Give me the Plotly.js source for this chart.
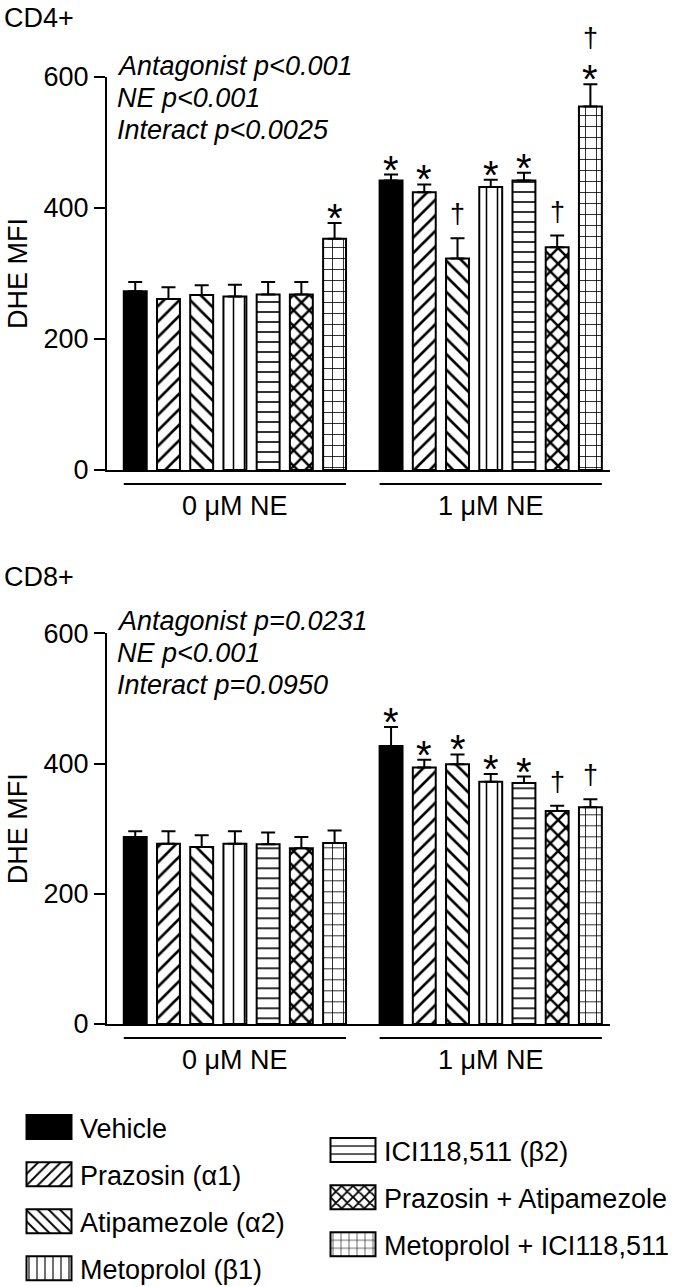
<!DOCTYPE html>
<html>
<head>
<meta charset="utf-8">
<script src="https://cdn.plot.ly/plotly-3.0.1.min.js"></script>
<style>html,body{margin:0;padding:0;background:#fff}</style>
</head>
<body>
<div id="chart" style="width:700px;height:1287px"></div>
<script>
// ---------- data ----------
const seriesNames = ['Vehicle', 'Prazosin (α1)', 'Atipamezole (α2)', 'Metoprolol (β1)',
  'ICI118,511 (β2)', 'Prazosin + Atipamezole', 'Metoprolol + ICI118,511'];
const groupLabels = ['0 μM NE', '1 μM NE'];
const panelTitles = ['CD4+', 'CD8+'];

const cd4_0NE = [273, 261, 267, 265, 268, 268, 353];
const cd4_0NE_sem = [14, 18, 15, 18, 19, 19, 24];
const cd4_1NE = [442, 424, 323, 432, 442, 340, 555];
const cd4_1NE_sem = [9, 12, 31, 11, 12, 18, 34];

const cd8_0NE = [287, 277, 272, 277, 276, 270, 278];
const cd8_0NE_sem = [9, 19, 18, 19, 18, 17, 19];
const cd8_1NE = [427, 394, 399, 372, 370, 327, 333];
const cd8_1NE_sem = [29, 12, 15, 12, 10, 8, 12];

// significance marks, listed from the error bar upward
const cd4_0NE_marks = ['', '', '', '', '', '', '*'];
const cd4_1NE_marks = ['*', '*', '†', '*', '*', '†', '*†'];
const cd8_0NE_marks = ['', '', '', '', '', '', ''];
const cd8_1NE_marks = ['*', '*', '*', '*', '*', '†', '†'];

const cd4_stats = ['Antagonist p<0.001', 'NE p<0.001', 'Interact p<0.0025'];
const cd8_stats = ['Antagonist p=0.0231', 'NE p<0.001', 'Interact p=0.0950'];

const yTickVals = [0, 200, 400, 600];
const yTitle = 'DHE MFI';

// ---------- styling ----------
const W = 700, H = 1287;
const M = {l: 107, r: 90, t: 77, b: 263, autoexpand: false};
const px2x = p => (p - M.l) / (W - M.l - M.r);
const py2y = p => (H - M.b - p) / (H - M.t - M.b);
const FONT = 'Liberation Sans, Arial, sans-serif';
const FS = 27;
const patterns = [
  null,
  {shape: '/', size: 11, solidity: 0.24},
  {shape: '\\', size: 11, solidity: 0.24},
  {shape: '|', size: 11, solidity: 0.14},
  {shape: '-', size: 10, solidity: 0.16},
  {shape: 'x', size: 11, solidity: 0.4},
  {shape: '+', size: 11, solidity: 0.14}
];
const GROUP_OFFSET = 7.7;
const BAR_W = 0.69;

const panels = [
  {vals: [cd4_0NE, cd4_1NE], sems: [cd4_0NE_sem, cd4_1NE_sem], marks: [cd4_0NE_marks, cd4_1NE_marks],
   stats: cd4_stats, title: panelTitles[0], xa: 'x', ya: 'y', titlePx: 18, statsPx: [66, 98, 130]},
  {vals: [cd8_0NE, cd8_1NE], sems: [cd8_0NE_sem, cd8_1NE_sem], marks: [cd8_0NE_marks, cd8_1NE_marks],
   stats: cd8_stats, title: panelTitles[1], xa: 'x2', ya: 'y2', titlePx: 577, statsPx: [621, 653, 685]}
];

const traces = [];
const annotations = [];
const shapes = [];

panels.forEach((p, pi) => {
  seriesNames.forEach((name, s) => {
    const xs = groupLabels.map((g, gi) => gi * GROUP_OFFSET + s);
    const ys = groupLabels.map((g, gi) => p.vals[gi][s]);
    const es = groupLabels.map((g, gi) => p.sems[gi][s]);
    const marker = {line: {color: 'black', width: 2}};
    if (patterns[s]) {
      marker.color = 'white';
      marker.pattern = Object.assign({fgcolor: 'black', bgcolor: 'white', fillmode: 'replace'}, patterns[s]);
    } else {
      marker.color = 'black';
    }
    traces.push({
      type: 'bar', name: name, x: xs, y: ys, width: BAR_W,
      xaxis: p.xa, yaxis: p.ya, marker: marker,
      error_y: {type: 'data', symmetric: false, array: es, arrayminus: es.map(() => 0),
                color: 'black', thickness: 2, width: 7},
      showlegend: pi === 0,
      legend: s < 4 ? 'legend' : 'legend2',
      legendgroup: 'g' + s,
      hoverinfo: 'x+y'
    });
    // significance marks
    groupLabels.forEach((g, gi) => {
      const m = p.marks[gi][s];
      let shift = 0;
      for (const ch of m) {
        const isStar = ch === '*';
        annotations.push({
          xref: p.xa, yref: p.ya, x: gi * GROUP_OFFSET + s, y: p.vals[gi][s] + p.sems[gi][s],
          text: ch, showarrow: false, xanchor: 'center', yanchor: 'middle',
          yshift: shift + (isStar ? 5 : 24),
          font: {family: FONT, size: isStar ? 40 : 27, color: 'black'}
        });
        shift += isStar ? 22 : 30;
      }
    });
  });
  // group brackets and labels
  groupLabels.forEach((g, gi) => {
    shapes.push({type: 'line', xref: p.xa, yref: p.ya + ' domain',
      x0: gi * GROUP_OFFSET - BAR_W / 2, x1: gi * GROUP_OFFSET + 6 + BAR_W / 2,
      y0: -14 / 392, y1: -14 / 392, line: {color: 'black', width: 2}});
    annotations.push({xref: p.xa, yref: p.ya + ' domain', x: gi * GROUP_OFFSET + 3, y: 0,
      yshift: -36, text: g, showarrow: false, xanchor: 'center', yanchor: 'middle',
      font: {family: FONT, size: FS, color: 'black'}});
  });
  // panel title
  annotations.push({xref: 'paper', yref: 'paper', x: px2x(2), y: py2y(p.titlePx), text: p.title,
    showarrow: false, xanchor: 'left', yanchor: 'middle', font: {family: FONT, size: FS, color: 'black'}});
  // stats
  p.stats.forEach((t, k) => {
    annotations.push({xref: 'paper', yref: 'paper', x: px2x(115), y: py2y(p.statsPx[k]),
      text: '<i>' + t + '</i>', showarrow: false, xanchor: 'left', yanchor: 'middle',
      font: {family: FONT, size: FS, color: 'black'}});
  });
});

const yaxisBase = {
  range: [0, 600], tickvals: yTickVals, ticks: 'outside', ticklen: 11, tickwidth: 2,
  tickcolor: 'black', showline: true, linecolor: 'black', linewidth: 2, showgrid: false,
  zeroline: false, tickfont: {family: FONT, size: FS, color: 'black'},
  title: {text: yTitle, font: {family: FONT, size: FS, color: 'black'}, standoff: 8}
};
const xaxisBase = {
  range: [-0.85, 14.29], showline: true, linecolor: 'black', linewidth: 2, showgrid: false,
  zeroline: false, ticks: '', showticklabels: false, domain: [0, 1]
};

const legendBase = {xanchor: 'left', yanchor: 'top', bgcolor: 'rgba(0,0,0,0)',
  font: {family: FONT, size: FS, color: 'black'}, tracegroupgap: 9, itemwidth: 56, traceorder: 'grouped'};

const layout = {
  width: W, height: H, margin: M, paper_bgcolor: 'white', plot_bgcolor: 'white',
  font: {family: FONT, size: FS, color: 'black'},
  barmode: 'overlay',
  xaxis: Object.assign({anchor: 'y'}, xaxisBase),
  yaxis: Object.assign({anchor: 'x', domain: [py2y(470), 1]}, yaxisBase),
  xaxis2: Object.assign({anchor: 'y2'}, xaxisBase),
  yaxis2: Object.assign({anchor: 'x2', domain: [0, py2y(633.3)]}, yaxisBase),
  legend: Object.assign({x: px2x(14), y: py2y(1103)}, legendBase),
  legend2: Object.assign({x: px2x(318), y: py2y(1126)}, legendBase),
  annotations: annotations,
  shapes: shapes,
  showlegend: true
};

// enlarge the legend swatches to the wide boxes of the original figure
function widenSwatches(gd) {
  gd.querySelectorAll('g.traces').forEach(item => {
    const txt = item.querySelector('text');
    if (!txt) return;
    const tx = parseFloat(txt.getAttribute('x')) || 0;
    const cx = tx - 8.5 - 22.5;
    item.querySelectorAll('g.legendpoints path').forEach(path => {
      path.setAttribute('d', 'M22.5,12H-22.5V-12H22.5Z');
      path.setAttribute('transform', 'translate(' + cx + ',0)');
    });
  });
}

const gdEl = document.getElementById('chart');
Plotly.newPlot(gdEl, traces, layout, {staticPlot: true, displayModeBar: false})
  .then(gd => {
    widenSwatches(gd);
    gd.on('plotly_afterplot', () => widenSwatches(gd));
  });
</script>
</body>
</html>
